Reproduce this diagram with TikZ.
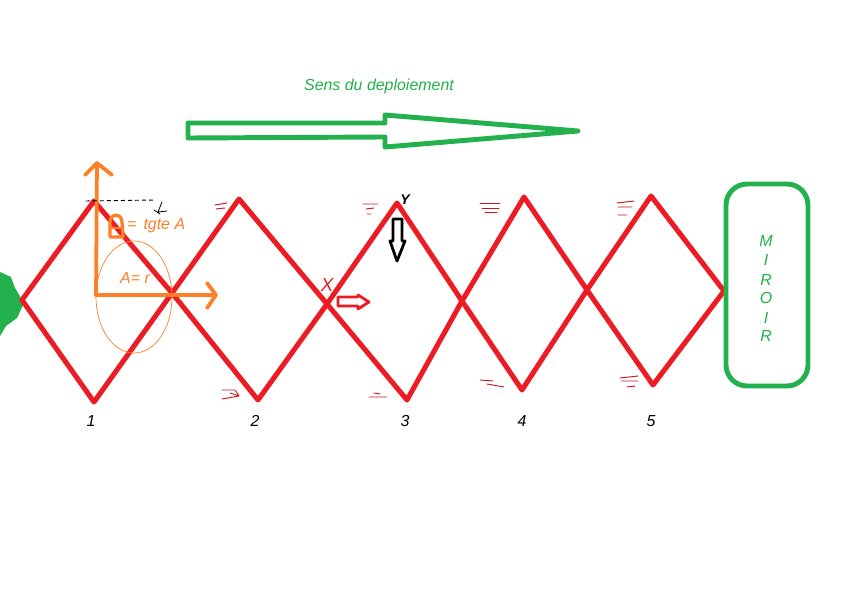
\documentclass[tikz,border=0pt]{standalone}
\usepackage{fontspec}
\setmainfont{Liberation Sans}
\definecolor{paintgreen}{HTML}{22B14C}
\definecolor{paintred}{HTML}{ED1C24}
\definecolor{paintorange}{HTML}{FF7F27}
\begin{document}
\begin{tikzpicture}[x=0.03cm,y=-0.03cm,line join=round,line cap=round,
    every node/.style={font=\fontsize{13.6pt}{15pt}\selectfont\itshape},
    rodline/.style={paintred,line width=4.3pt},
    hatchline/.style={paintred!85!black,line width=0.8pt},
    axisline/.style={paintorange,line width=3.2pt},
    greenline/.style={paintgreen,line width=4.2pt},
    numlabel/.style={black},
    greenlabel/.style={paintgreen},
    orangelabel/.style={paintorange}]
        \useasboundingbox (0,0) rectangle (842,600);

        % Joints of the rods
        \coordinate (start) at (22,300);
        \coordinate (top1) at (94,201);
        \coordinate (bot1) at (94,402);
        \coordinate (cross1) at (172,293);
        \coordinate (top2) at (239,199);
        \coordinate (bot2) at (258,400);
        \coordinate (cross2) at (327,304);
        \coordinate (top3) at (397,203);
        \coordinate (bot3) at (407,400);
        \coordinate (cross3) at (462,301);
        \coordinate (top4) at (524,197);
        \coordinate (bot4) at (522,390);
        \coordinate (cross4) at (587,290);
        \coordinate (top5) at (651,196);
        \coordinate (bot5) at (653,385);
        \coordinate (tip) at (724,291);

        % Green blob on the left
        \fill[paintgreen] (0,272) -- (11,277) -- (15,288) -- (24,303) -- (17,318)
            -- (6,326) -- (0,336) -- cycle;

        % Red rods
        \draw[rodline] (start) -- (top1) -- (cross1) -- (bot2) -- (cross2) -- (top3)
            -- (cross3) -- (bot4) -- (cross4) -- (top5) -- (tip);
        \draw[rodline] (start) -- (bot1) -- (cross1) -- (top2) -- (cross2) -- (bot3)
            -- (cross3) -- (top4) -- (cross4) -- (bot5) -- (tip);

        % Hatches beside the joints
        \draw[hatchline] (215,205) -- (227,203) (216,209) -- (225,208);
        \draw[hatchline] (363,204) -- (378,204) (366,209) -- (374,208) (367,214) -- (371,214);
        \draw[hatchline] (480,203) -- (500,203) (482,208) -- (499,208) (485,212) -- (497,212);
        \draw[hatchline] (617,203) -- (634,201) (618,207) -- (632,207) (618,215) -- (627,215);
        \draw[hatchline] (222,390) -- (235,390) -- (239,396) -- (222,399) (230,393) -- (239,396);
        \draw[hatchline] (374,393) -- (380,394) (369,397) -- (387,397);
        \draw[hatchline] (480,380) -- (493,381) (487,384) -- (504,387);
        \draw[hatchline] (620,378) -- (638,376) (621,381) -- (638,381) (627,387) -- (635,386);

        % Orange axes
        \coordinate (origin) at (96,295);
        \draw[axisline] (origin) -- (97,163);
        \draw[axisline] (85,175) -- (97,163) -- (112,175);
        \draw[axisline] (origin) -- (215,295);
        \draw[axisline] (207,283) -- (216,295) -- (207,308);
        \draw[paintorange,line width=0.6pt] (134,297) ellipse (38 and 56);

        % Tangent mark
        \draw[black,dashed,line width=0.8pt] (86,201) -- (155,200);
        \draw[black,line width=0.7pt] (162,202) -- (158,212) -- (167,211) (154,210) -- (160,214);
        \draw[paintorange,line width=2.8pt] (110,237) -- (110,222)
            .. controls (110,213) and (122,213) .. (122,222) -- (123,237) -- cycle;
        \draw[paintorange,line width=1.8pt] (110,228) -- (123,228);
        \node[orangelabel,anchor=west] (tangent) at (123,226) {=\, tgte A};
        \node[orangelabel] (radius) at (135,278) {A= r};

        % Deployment arrow
        \node[greenlabel] (sens) at (379,86) {Sens du deploiement};
        \draw[greenline] (188,123) -- (385,123) -- (385,115) -- (578,131)
            -- (385,147) -- (385,137) -- (188,138) -- cycle;

        % Motion of the points
        \node[paintred,font=\fontsize{16pt}{16pt}\selectfont\itshape] (ptx) at (327,285) {X};
        \draw[paintred,line width=2.4pt] (338,297) -- (358,297) -- (358,295) -- (369,302)
            -- (358,309) -- (358,306) -- (338,306) -- cycle;
        \node[black,font=\fontsize{12pt}{12pt}\selectfont\bfseries\itshape] (pty) at (405,200) {Y};
        \draw[black,line width=2.4pt] (393,219) -- (402,219) -- (402,241) -- (405,241)
            -- (397,261) -- (390,241) -- (393,241) -- cycle;

        % Mirror
        \draw[greenline,rounded corners=18] (726,184) rectangle (808,386);
        \node[greenlabel] (m1) at (766,241) {M};
        \node[greenlabel] (m2) at (766,260) {I};
        \node[greenlabel] (m3) at (766,280) {R};
        \node[greenlabel] (m4) at (766,298) {O};
        \node[greenlabel] (m5) at (766,318) {I};
        \node[greenlabel] (m6) at (766,336) {R};

        % Numbers under the cells
        \node[numlabel] (n1) at (91,421) {1};
        \node[numlabel] (n2) at (255,421) {2};
        \node[numlabel] (n3) at (405,421) {3};
        \node[numlabel] (n4) at (522,421) {4};
        \node[numlabel] (n5) at (651,421) {5};
\end{tikzpicture}
\end{document}
